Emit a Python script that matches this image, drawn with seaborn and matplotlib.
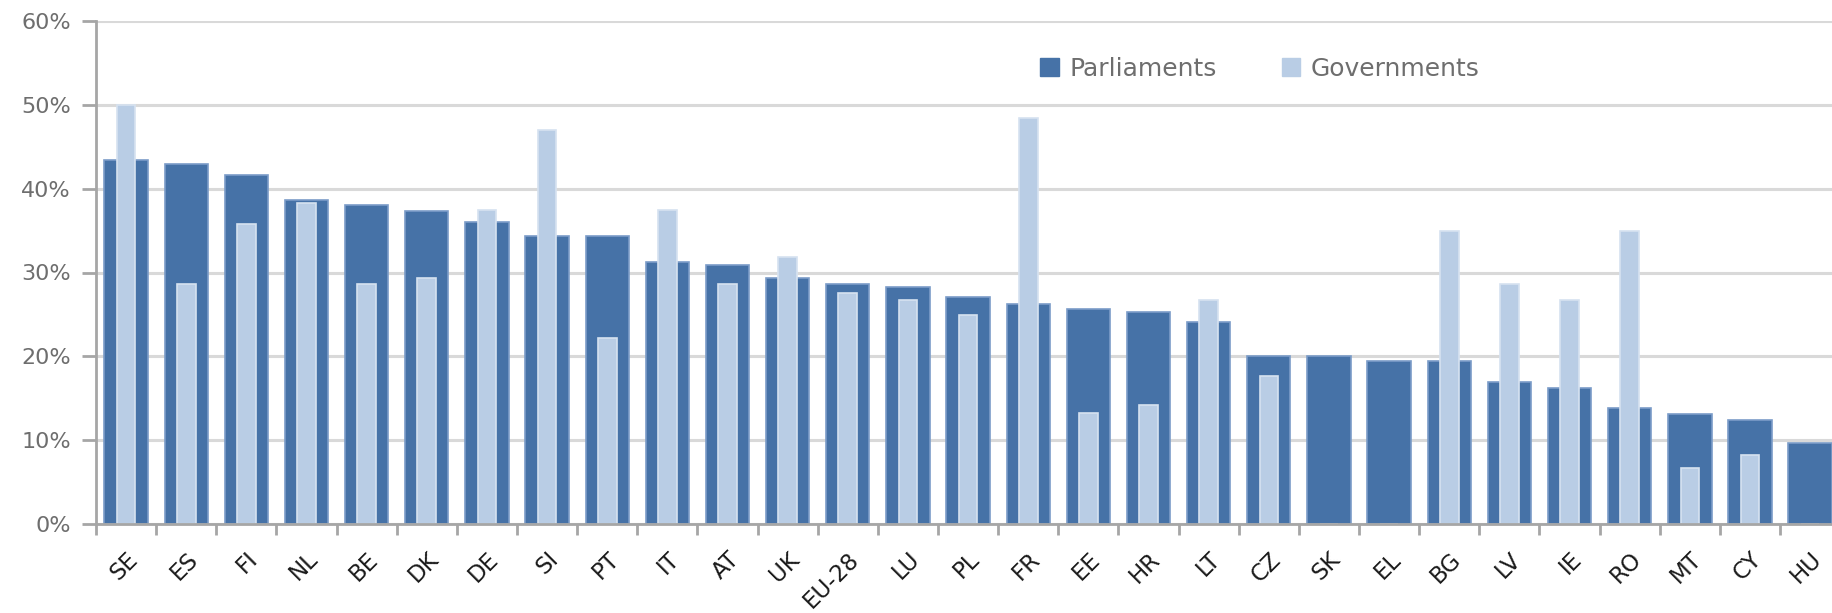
import matplotlib
matplotlib.use("Agg")
import matplotlib.pyplot as plt
import matplotlib.patches as mpatches
import seaborn as sns
import pandas as pd

# Data (share of women, %)
countries = ["SE", "ES", "FI", "NL", "BE", "DK", "DE", "SI", "PT", "IT", "AT", "UK",
             "EU-28", "LU", "PL", "FR", "EE", "HR", "LT", "CZ", "SK", "EL", "BG", "LV",
             "IE", "RO", "MT", "CY", "HU"]
parliaments = [43.4, 43.0, 41.6, 38.7, 38.0, 37.3, 36.0, 34.4, 34.4, 31.3, 30.9, 29.4,
               28.6, 28.3, 27.1, 26.3, 25.7, 25.3, 24.1, 20.0, 20.0, 19.5, 19.5, 16.9,
               16.2, 13.8, 13.1, 12.4, 9.7]
governments = [50.0, 28.6, 35.8, 38.3, 28.6, 29.4, 37.4, 47.0, 22.2, 37.4, 28.6, 31.8,
               27.6, 26.7, 24.9, 48.4, 13.3, 14.2, 26.7, 17.7, 0.0, 0.0, 35.0, 28.6,
               26.7, 35.0, 6.7, 8.2, 0.0]
y_ticks = [0, 10, 20, 30, 40, 50, 60]
y_tick_labels = ["0%", "10%", "20%", "30%", "40%", "50%", "60%"]

PARL_COLOR = "#4672a7"
GOV_COLOR = "#b9cde5"
TEXT_GRAY = "#6e6e6e"

df = pd.DataFrame({"Country": countries, "Parliaments": parliaments,
                   "Governments": governments})

sns.set_theme(style="white")
plt.rcParams["font.family"] = ["DejaVu Sans"]

fig = plt.figure(figsize=(18.33, 6.13), dpi=100)
ax = fig.add_axes([96 / 1833, 89 / 613, 1737 / 1833, 503 / 613])

sns.barplot(data=df, x="Country", y="Parliaments", color=PARL_COLOR, saturation=1,
            width=0.72, edgecolor="#7b9cc8", linewidth=1.2, ax=ax, zorder=2)
sns.barplot(data=df, x="Country", y="Governments", color=GOV_COLOR, saturation=1,
            width=0.31, edgecolor="#d6e2f0", linewidth=1.2, ax=ax, zorder=3)

ax.set_xlim(-0.5, 28.38)
ax.set_ylim(0, 60)
ax.set_xlabel("")
ax.set_ylabel("")

# grid and axes
ax.set_yticks(y_ticks)
ax.set_yticklabels(y_tick_labels, color=TEXT_GRAY, fontsize=16)
ax.yaxis.grid(True, color="#d9d9d9", linewidth=2.2, zorder=0)
ax.set_axisbelow(True)
for side in ["top", "right"]:
    ax.spines[side].set_visible(False)
for side in ["left", "bottom"]:
    ax.spines[side].set_color("#a6a6a6")
    ax.spines[side].set_linewidth(2)
    ax.spines[side].set_zorder(4)

ax.tick_params(axis="y", which="major", direction="out", length=10, width=2,
               color="#a6a6a6", left=True, pad=8)
ax.set_xticks(range(len(countries)))
ax.set_xticklabels(countries, rotation=45, ha="right", rotation_mode="anchor",
                   fontsize=16.5, color="#1a1a1a")
ax.tick_params(axis="x", which="major", length=0, pad=17)
ax.set_xticks([i - 0.5 for i in range(len(countries))], minor=True)
ax.tick_params(axis="x", which="minor", direction="out", length=8, width=2,
               color="#a6a6a6", bottom=True)

handles = [mpatches.Patch(color=PARL_COLOR, label="Parliaments"),
           mpatches.Patch(color=GOV_COLOR, label="Governments")]
leg = ax.legend(handles=handles, loc="center", bbox_to_anchor=(0.67, 0.905), ncol=2,
                frameon=False, fontsize=18, handlelength=0.75, handleheight=0.75,
                handletextpad=0.4, columnspacing=2.6)
for t in leg.get_texts():
    t.set_color(TEXT_GRAY)

fig.savefig("out.png", dpi=100)
